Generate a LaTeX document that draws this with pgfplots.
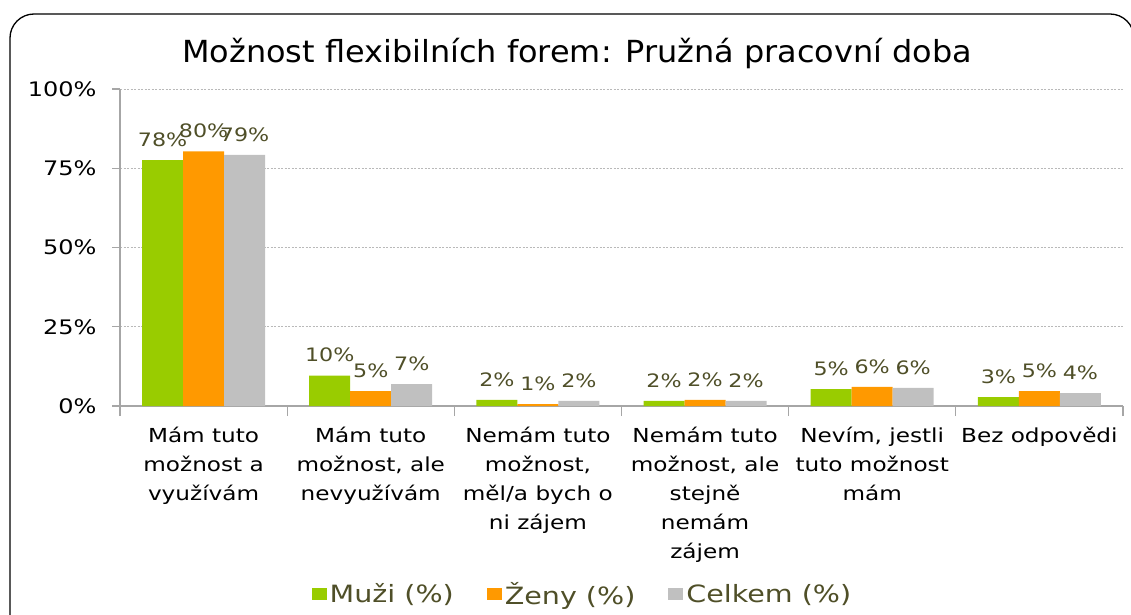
\documentclass[border=0pt]{standalone}
\usepackage{fontspec}
\setmainfont[FakeStretch=1.2]{DejaVu Sans}
\newfontfamily\titlefont[FakeStretch=1.05]{DejaVu Sans}
\usepackage{pgfplots}
\pgfplotsset{compat=1.18}
\definecolor{cMuzi}{RGB}{153,204,0}
\definecolor{cZeny}{RGB}{255,153,0}
\definecolor{cCelk}{RGB}{192,192,192}
\definecolor{lblolive}{RGB}{79,79,40}
\definecolor{axgray}{RGB}{166,166,166}
\definecolor{gridgray}{RGB}{185,185,185}
\begin{document}
\begin{tikzpicture}[x=1pt,y=1pt]
\useasboundingbox (0,0) rectangle (1131,614);
\draw[line width=1.3pt, rounded corners=24pt] (10,-60) -- (10,600) -- (1134,600) -- (1134,-60);
\node[font=\titlefont\fontsize{30.4}{34}\selectfont] at (577,560) {Možnost flexibilních forem: Pružná pracovní doba};
\begin{axis}[
  at={(120pt,208pt)}, anchor=south west,
  width=1003pt, height=317pt, scale only axis,
  xmin=-0.5, xmax=5.5, ymin=0, ymax=100,
  axis x line*=bottom, axis y line*=left,
  axis line style={axgray, line width=1.3pt, -},
  tick align=outside,
  ybar=0pt, bar width=41pt,
  xtick={0,...,5},
  major x tick style={draw=none},
  minor xtick={-0.5,0.5,...,5.5},
  minor x tick style={axgray, line width=1.3pt},
  minor tick length=10pt,
  major tick length=8pt,
  ytick={0,25,50,75,100},
  yticklabels={0\%,25\%,50\%,75\%,100\%},
  y tick style={axgray, line width=1.3pt},
  yticklabel style={font=\fontsize{20}{24}\selectfont, text=black, xshift=-12pt},
  ymajorgrids,
  major grid style={gridgray, dash pattern=on 2pt off 1.5pt, line width=0.8pt},
  xticklabels={{Mám tuto\\možnost a\\využívám},{Mám tuto\\možnost, ale\\nevyužívám},{Nemám tuto\\možnost,\\měl/a bych o\\ni zájem},{Nemám tuto\\možnost, ale\\stejně\\nemám\\zájem},{Nevím, jestli\\tuto možnost\\mám},{Bez odpovědi}},
  xticklabel style={font=\fontsize{19.3}{29}\selectfont, align=center, text=black, anchor=north, yshift=-10pt},
  nodes near coords={\pgfmathprintnumber[fixed,precision=0,assume math mode=true]{\pgfplotspointmeta}\%},
  every node near coord/.append style={font=\fontsize{18.5}{22}\selectfont, text=lblolive, yshift=10pt},
  legend style={at={(0.4616,-0.593)}, anchor=center, draw=none, fill=none,
    legend columns=3, font=\fontsize{23.8}{28}\selectfont, text=lblolive,
    nodes={inner xsep=3pt},
    /tikz/every even column/.append style={column sep=30pt},
    /tikz/every odd column/.append style={column sep=0pt}},
  legend image code/.code={\fill[#1,draw=none] (0pt,-6pt) rectangle (15pt,6pt);},
]
\addplot[fill=cMuzi, draw=none] coordinates {(0,77.6) (1,9.6) (2,1.9) (3,1.6) (4,5.3) (5,2.8)};
\addplot[fill=cZeny, draw=none] coordinates {(0,80.3) (1,4.7) (2,0.6) (3,1.9) (4,6.0) (5,4.7)};
\addplot[fill=cCelk, draw=none] coordinates {(0,79.2) (1,6.9) (2,1.6) (3,1.6) (4,5.7) (5,4.1)};
\legend{Muži (\%),Ženy (\%),Celkem (\%)}
\end{axis}
\end{tikzpicture}
\end{document}
